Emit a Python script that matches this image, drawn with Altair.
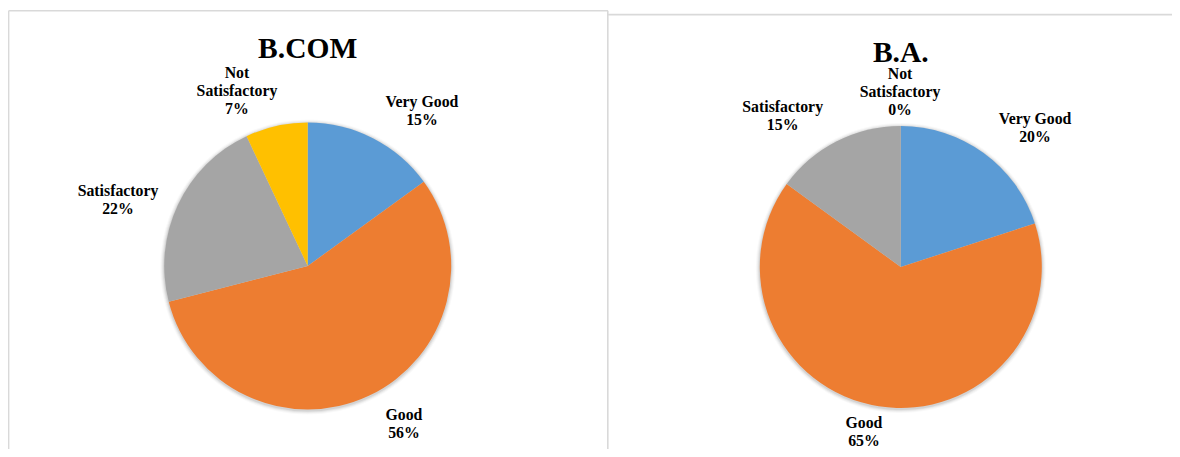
import altair as alt
import pandas as pd

# ---------------- data ----------------
categories = ["Very Good", "Good", "Satisfactory", "Not Satisfactory"]
label_lines = ["Very Good", "Good", "Satisfactory", "Not\nSatisfactory"]
bcom_values = [15, 56, 22, 7]
ba_values = [20, 65, 15, 0]
colors = ["#5B9BD5", "#ED7D31", "#A5A5A5", "#FFC000"]
titles = ["B.COM", "B.A."]

# ---------------- layout ----------------
W, H = 1164, 441
FONT = "Liberation Serif"
BORDER = "#D9D9D9"

color_scale = alt.Scale(domain=categories, range=colors)
dummy = pd.DataFrame({"k": [0]})


def make_df(values):
    return pd.DataFrame({
        "category": categories,
        "label": label_lines,
        "value": values,
        "order": list(range(len(categories))),
    })


def pie_layers(values, title, cx, cy, R, title_y, nudges):
    df = make_df(values)
    total = sum(values)
    base = alt.Chart(df)
    layers = []
    # soft shadow rings
    for extra, op in [(4, 0.025), (3, 0.035), (2, 0.05), (1, 0.07)]:
        layers.append(
            base.mark_arc(outerRadius=R + extra, color="#000000", opacity=op).encode(
                theta=alt.Theta("value:Q", stack=True, scale=alt.Scale(domain=[0, total])),
                order=alt.Order("order:Q"),
                x=alt.value(cx), y=alt.value(cy + 1),
            )
        )
    layers.append(
        base.mark_arc(outerRadius=R).encode(
            theta=alt.Theta("value:Q", stack=True, scale=alt.Scale(domain=[0, total])),
            color=alt.Color("category:N", scale=color_scale, legend=None),
            order=alt.Order("order:Q"),
            x=alt.value(cx), y=alt.value(cy),
        )
    )
    lab = base.transform_window(
        cum="sum(value)", sort=[alt.SortField("order")], frame=[None, 0]
    ).transform_calculate(
        mid="datum.cum - datum.value / 2",
        txt="datum.label + '\\n' + datum.value + '%'",
    )
    for cat, (dx, dy) in zip(categories, nudges):
        layers.append(
            lab.transform_filter(alt.datum.category == cat).mark_text(
                radius=R + 30, dx=dx, dy=dy, font=FONT, fontSize=15.8,
                fontWeight="bold", lineBreak="\n", lineHeight=18,
                align="center", baseline="middle", color="#000000",
            ).encode(
                theta=alt.Theta("mid:Q", stack=None, scale=alt.Scale(domain=[0, total])),
                text="txt:N",
                x=alt.value(cx), y=alt.value(cy),
            )
        )
    layers.append(
        alt.Chart(dummy).mark_text(
            text=title, font=FONT, fontSize=29.5, fontWeight="bold",
            align="center", baseline="alphabetic", color="#000000",
        ).encode(x=alt.value(cx), y=alt.value(title_y))
    )
    return layers


def rule(x, x2, y, y2):
    return alt.Chart(dummy).mark_rule(color=BORDER, strokeWidth=1.6).encode(
        x=alt.value(x), x2=alt.value(x2), y=alt.value(y), y2=alt.value(y2)
    )


borders = [
    rule(0.6, 0.6, 2.7, H),        # left box, left edge
    rule(0.6, 600, 2.7, 2.7),      # left box, top edge
    rule(599.8, 599.8, 2.7, H),    # shared divider
    rule(599.8, W, 6.6, 6.6),      # right box, top edge
]

left = pie_layers(
    bcom_values, titles[0], cx=299.7, cy=258, R=143.5, title_y=50.3,
    nudges=[(35.5, -9), (22.4, -7.5), (-32.7, -1.6), (-32.9, -23.7)],
)
right = pie_layers(
    ba_values, titles[1], cx=892.8, cy=259, R=141, title_y=54.3,
    nudges=[(33.7, -9.7), (-10.1, -12.5), (-40.5, -7.6), (-0.8, -22)],
)

chart = alt.layer(*borders, *left, *right).resolve_scale(
    theta="independent"
).properties(
    width=W, height=H,
    padding=0,
    autosize=alt.AutoSizeParams(type="none"),
    background="white",
).configure_view(stroke=None)

chart.save("out.html", embed_options={"renderer": "svg", "actions": False})
